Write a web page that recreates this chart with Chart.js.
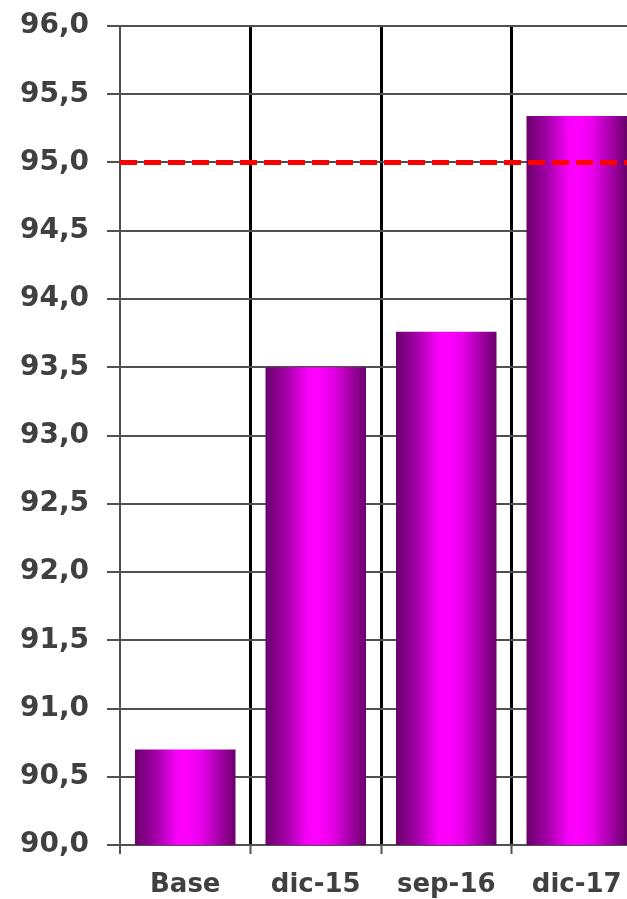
<!DOCTYPE html>
<html>
<head>
<meta charset="utf-8">
<script src="https://cdn.jsdelivr.net/npm/chart.js@4/dist/chart.umd.min.js"></script>
<style>
  html, body { margin: 0; padding: 0; background: #ffffff; overflow: hidden; }
  #wrap { position: relative; width: 642px; height: 899px; }
</style>
</head>
<body>
<div id="wrap"><canvas id="chart"></canvas></div>
<script>
// Categories and values of the bars
const categories = ['Base', 'dic-15', 'sep-16', 'dic-17'];
const values = [90.7, 93.5, 93.76, 95.34];
// Target level drawn as a dashed red line
const target = 95.0;
// Value axis range and step
const yMin = 90.0;
const yMax = 96.0;
const yStep = 0.5;

const BAR_PCT = 0.77;
const labelColor = '#404040';
const gridGray = '#505050';

// Horizontal purple-magenta-purple shading of each bar
function barGradient(context) {
  const chart = context.chart;
  const xs = chart.scales.x;
  if (!chart.chartArea || !xs) return '#ff00ff';
  const cw = xs.width / categories.length;
  const bw = cw * BAR_PCT;
  const cx = xs.getPixelForValue(context.dataIndex);
  const g = chart.ctx.createLinearGradient(cx - bw / 2, 0, cx + bw / 2, 0);
  g.addColorStop(0, '#6a006c');
  g.addColorStop(0.2, '#a000a4');
  g.addColorStop(0.42, '#f800fa');
  g.addColorStop(0.52, '#ff00ff');
  g.addColorStop(0.66, '#e800ea');
  g.addColorStop(0.85, '#a200a4');
  g.addColorStop(1, '#6a006c');
  return g;
}

// Dashed target line across the whole plot, over the bars
const targetLine = {
  id: 'targetLine',
  afterDatasetsDraw(chart) {
    const { ctx, chartArea, scales } = chart;
    const py = scales.y.getPixelForValue(target);
    ctx.save();
    ctx.strokeStyle = '#ff0000';
    ctx.lineWidth = 5;
    ctx.setLineDash([17, 7]);
    ctx.beginPath();
    ctx.moveTo(chartArea.left, py);
    ctx.lineTo(chartArea.right, py);
    ctx.stroke();
    ctx.restore();
  }
};

new Chart(document.getElementById('chart'), {
  type: 'bar',
  data: {
    labels: categories,
    datasets: [{
      data: values,
      backgroundColor: barGradient,
      borderWidth: 0,
      barPercentage: BAR_PCT,
      categoryPercentage: 1.0
    }]
  },
  options: {
    responsive: true,
    maintainAspectRatio: false,
    animation: false,
    layout: { padding: { top: 26, right: 0, bottom: 0, left: 0 } },
    plugins: {
      legend: { display: false },
      tooltip: { enabled: false }
    },
    scales: {
      x: {
        offset: true,
        grid: {
          offset: true,
          drawOnChartArea: true,
          color: (c) => c.index === 0 ? gridGray : '#000000',
          lineWidth: (c) => c.index === 0 ? 2 : 3,
          tickColor: gridGray,
          tickWidth: 2,
          tickLength: 9
        },
        border: { display: true, color: gridGray, width: 2 },
        ticks: {
          color: labelColor,
          padding: 16,
          maxRotation: 0,
          font: { family: 'DejaVu Sans', size: 26, weight: 'bold' }
        },
        afterFit: (scale) => { scale.height = 54; }
      },
      y: {
        min: yMin,
        max: yMax,
        grid: {
          color: gridGray,
          lineWidth: 2,
          tickColor: gridGray,
          tickWidth: 2,
          tickLength: 13
        },
        border: { display: true, color: gridGray, width: 2 },
        ticks: {
          stepSize: yStep,
          color: labelColor,
          padding: 18,
          font: { family: 'DejaVu Sans', size: 28, weight: 'bold' },
          callback: (v) => Number(v).toFixed(1).replace('.', ',')
        },
        afterFit: (scale) => {
          scale.width = 120;
          scale.paddingTop = 0;
          scale.paddingBottom = 0;
        }
      }
    }
  },
  plugins: [targetLine]
});
</script>
</body>
</html>
